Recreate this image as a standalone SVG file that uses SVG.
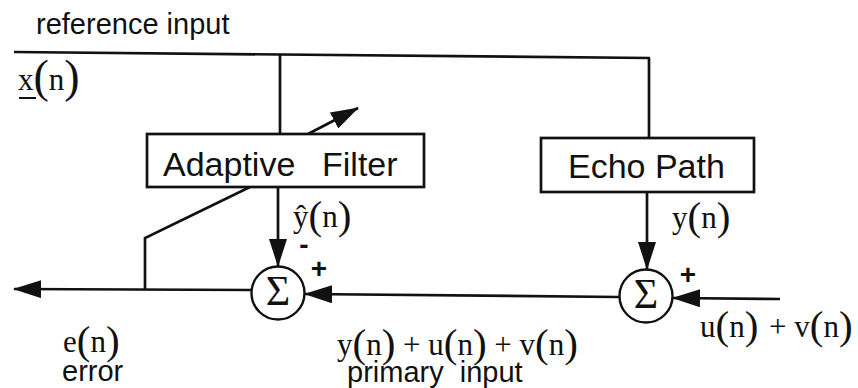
<svg xmlns="http://www.w3.org/2000/svg" width="858" height="388" viewBox="0 0 858 388">
<style>
.ln{fill:none;stroke:#111;stroke-width:2.7}
.box{fill:#fff;stroke:#111;stroke-width:2.7}
.sum{fill:#fff;stroke:#111;stroke-width:2.4}
.sans{font-family:"Liberation Sans",Arial,sans-serif;fill:#111}
.math{font-family:"Liberation Serif","Times New Roman",serif;font-size:31px;fill:#111}
.p{font-size:41px}
.sig{font-family:"Liberation Serif","Times New Roman",serif;font-size:42px;fill:#111;text-anchor:middle}
.sgn{font-family:"Liberation Sans",Arial,sans-serif;font-weight:bold;font-size:28px;fill:#111;text-anchor:middle}
</style>
<defs>
<marker id="ah" markerUnits="userSpaceOnUse" markerWidth="28" markerHeight="18" refX="27" refY="9" orient="auto">
<path d="M0,0 L28,9 L0,18 z" fill="#111"/>
</marker>
</defs>
<rect width="858" height="388" fill="#fff"/>
<g id="connectors">
<line class="ln" x1="14" y1="52" x2="650" y2="58"/>
<line class="ln" x1="280" y1="54" x2="280" y2="134"/>
<line class="ln" x1="649" y1="58" x2="649" y2="138"/>
<line class="ln" x1="278" y1="187" x2="278" y2="266" marker-end="url(#ah)"/>
<line class="ln" x1="647" y1="192" x2="647" y2="269" marker-end="url(#ah)"/>
<line class="ln" x1="619" y1="297" x2="305" y2="294" marker-end="url(#ah)"/>
<line class="ln" x1="780" y1="299" x2="673" y2="298" marker-end="url(#ah)"/>
<line class="ln" x1="252" y1="290" x2="14" y2="289" marker-end="url(#ah)"/>
<polyline class="ln" points="145,289 145,238 250,187"/>
<line class="ln" x1="308" y1="134" x2="358" y2="108" marker-end="url(#ah)"/>
</g>
<g id="adaptive-filter">
<rect class="box" x="147" y="134" width="277" height="53"/>
<text class="sans" x="163" y="176" font-size="34">Adaptive</text>
<text class="sans" x="322" y="176" font-size="34">Filter</text>
</g>
<g id="echo-path">
<rect class="box" x="541" y="138" width="213" height="54"/>
<text class="sans" x="568" y="178" font-size="34">Echo Path</text>
</g>
<g id="sum1">
<circle class="sum" cx="278" cy="293" r="26.5"/>
<text class="sig" x="278" y="305">Σ</text>
</g>
<g id="sum2">
<circle class="sum" cx="646" cy="296" r="26.5"/>
<text class="sig" x="646" y="308">Σ</text>
</g>
<g id="labels">
<text class="sans" x="36" y="34" font-size="29">reference input</text>
<text class="math" x="18" y="90" font-size="36">x<tspan font-size="46" dy="2">(</tspan><tspan dy="-2">n</tspan><tspan font-size="46" dy="2">)</tspan></text>
<line x1="19" y1="98" x2="36" y2="98" stroke="#111" stroke-width="2"/>
<text class="math" x="293" y="227">ŷ<tspan class="p" dy="2">(</tspan><tspan dy="-2">n</tspan><tspan class="p" dy="2">)</tspan></text>
<text class="math" x="672" y="228">y<tspan class="p" dy="2">(</tspan><tspan dy="-2">n</tspan><tspan class="p" dy="2">)</tspan></text>
<text class="sgn" x="304" y="254">-</text>
<text class="sgn" x="319" y="278">+</text>
<text class="sgn" x="688" y="284">+</text>
<text class="math" x="63" y="352">e<tspan class="p" dy="2">(</tspan><tspan dy="-2">n</tspan><tspan class="p" dy="2">)</tspan></text>
<text class="sans" x="62" y="381" font-size="29">error</text>
<text class="math" x="337" y="355">y<tspan class="p" dy="2">(</tspan><tspan dy="-2">n</tspan><tspan class="p" dy="2">)</tspan><tspan dy="-2"> + u</tspan><tspan class="p" dy="2">(</tspan><tspan dy="-2">n</tspan><tspan class="p" dy="2">)</tspan><tspan dy="-2"> + v</tspan><tspan class="p" dy="2">(</tspan><tspan dy="-2">n</tspan><tspan class="p" dy="2">)</tspan></text>
<text class="sans" x="347" y="382" font-size="29" xml:space="preserve">primary  input</text>
<text class="math" x="700" y="337">u<tspan class="p" dy="2">(</tspan><tspan dy="-2">n</tspan><tspan class="p" dy="2">)</tspan><tspan dx="3" dy="-2"> + v</tspan><tspan class="p" dy="2">(</tspan><tspan dy="-2">n</tspan><tspan class="p" dy="2">)</tspan></text>
</g>
</svg>
